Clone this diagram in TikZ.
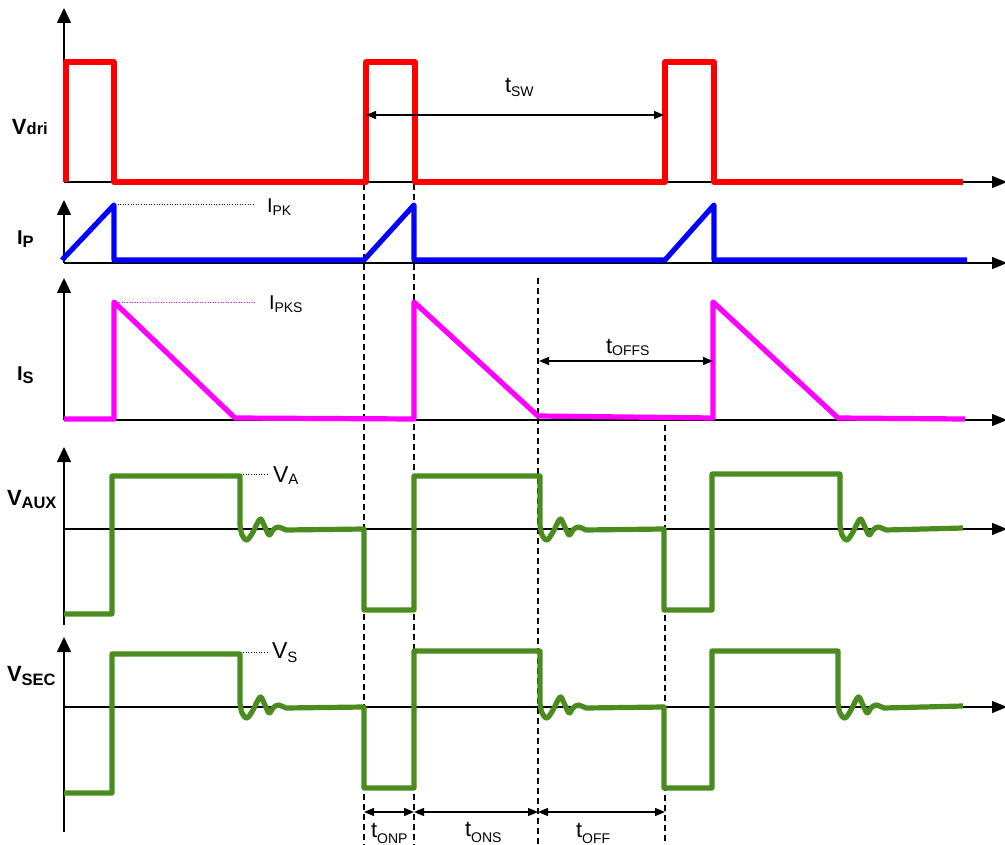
\documentclass[tikz,border=0pt]{standalone}
\usepackage{fontspec}
\setmainfont{Liberation Sans}
\usetikzlibrary{arrows.meta}
\definecolor{wgreen}{RGB}{75,140,30}
\definecolor{wred}{RGB}{255,0,0}
\definecolor{wblue}{RGB}{0,0,255}
\definecolor{wmag}{RGB}{255,0,255}
\newcommand\ringpath[2]{-- plot[smooth,tension=0.55] coordinates {(#1,#2-4) (#1+2,#2+6) (#1+7,#2+11) (#1+13,#2+3) (#1+20,#2-10) (#1+24,#2-4) (#1+29,#2+6) (#1+33,#2+1) (#1+38,#2-2) (#1+46,#2+1)}}
\newcommand\mainfs{\fontsize{22}{24}\selectfont\bfseries}
\newcommand\mainI{\fontsize{20}{22}\selectfont\bfseries}
\newcommand\mainsub{\fontsize{16.5}{18}\selectfont\bfseries}
\newcommand\tfs{\fontsize{22}{24}\selectfont}
\newcommand\tsub{\fontsize{14}{16}\selectfont}
\newcommand\vfs{\fontsize{23}{25}\selectfont}
\newcommand\vsub{\fontsize{15}{17}\selectfont}
\newcommand\ifs{\fontsize{20}{22}\selectfont}
\begin{document}
\begin{tikzpicture}[x=1pt,y=-1pt,
  axis/.style={line width=1.4pt,-{Triangle[length=15pt,width=14pt]}},
  haxis/.style={line width=1.4pt,-{Triangle[length=15pt,width=12pt]}},
  dsh/.style={line width=1.6pt,dash pattern=on 6pt off 4pt},
  dim/.style={line width=1.3pt,{Triangle[length=10pt,width=8pt]}-{Triangle[length=10pt,width=8pt]}},
  wave/.style={line width=5.2pt,line join=round},
  lab/.style={anchor=base west,inner sep=0pt,outer sep=0pt},
  dotl/.style={line width=0.9pt,dash pattern=on 1pt off 1.6pt}]
\useasboundingbox (0,0) rectangle (1005,845);
% axes
\coordinate (o1) at (64,182); \coordinate (o2) at (64,263); \coordinate (o3) at (64,420);
\coordinate (o4) at (64,529); \coordinate (o5) at (64,707);
\draw[axis] (o1) -- (64,8);
\draw[haxis] (o1) -- (1007,182);
\draw[axis] (o2) -- (64,200);
\draw[haxis] (o2) -- (1007,263);
\draw[axis] (o3) -- (64,278);
\draw[haxis] (o3) -- (1007,420);
\draw[axis] (64,625) -- (64,447);
\draw[haxis] (o4) -- (1007,529);
\draw[axis] (64,832) -- (64,637);
\draw[haxis] (o5) -- (1007,707);
% dashed markers
\draw[dsh] (364,184) -- (364,845);
\draw[dsh] (414,184) -- (414,845);
\draw[dsh] (538,278) -- (538,845);
\draw[dsh] (665,425) -- (665,845);
% dotted reference lines
\draw[dotl,wblue] (115,204) -- (255,204);
\draw[dotl,wmag] (114,302) -- (255,302);
\draw[dotl] (238,474) -- (268,474);
\draw[dotl] (238,652) -- (268,652);
% Vdri
\draw[wave,wred] (66,182) -- (66,62) -- (114,62) -- (114,182) -- (366,182) -- (366,62) -- (415,62) -- (415,182) -- (665,182) -- (665,62) -- (714,62) -- (714,182) -- (963,182);
% IP
\draw[wave,wblue] (62,260) -- (114,205) -- (114,260) -- (364,260) -- (414,205) -- (414,260) -- (665,260) -- (714,205) -- (714,260) -- (967,260);
% IS
\draw[wave,wmag] (64,419) -- (114,419) -- (114,302) -- (235,418) -- (414,419) -- (414,302) -- (538,416) -- (713,418) -- (713,302) -- (838,418) -- (965,419);
% VAUX
\draw[wave,wgreen] (64,614) -- (112,614) -- (112,476) -- (240,476) \ringpath{240}{529} -- (364,529) -- (364,610) -- (414,610) -- (414,476) -- (540,476) \ringpath{540}{529} -- (664,529) -- (664,610) -- (712,610) -- (712,474) -- (840,474) \ringpath{840}{529} -- (963,528);
% VSEC
\draw[wave,wgreen] (64,793) -- (112,793) -- (112,654) -- (240,654) \ringpath{240}{707} -- (364,707) -- (364,788) -- (414,788) -- (414,651) -- (540,651) \ringpath{540}{707} -- (664,707) -- (664,788) -- (712,788) -- (712,651) -- (838,651) \ringpath{838}{707} -- (963,706);
% dimension arrows
\coordinate (sw1) at (366,115); \coordinate (sw2) at (664,115);
\draw[dim] (sw1) -- (sw2);
\coordinate (of1) at (539,361); \coordinate (of2) at (713,361);
\draw[dim] (of1) -- (of2);
\coordinate (b1) at (364,812); \coordinate (b2) at (414,812); \coordinate (b3) at (538,812); \coordinate (b4) at (665,812);
\draw[dim] (b1) -- (b2);
\draw[dim] (b2) -- (b3);
\draw[dim] (b3) -- (b4);
% signal names
\node[lab] (lvdri) at (12,135) {\mainfs V\mainsub dri};
\node[lab] (lip) at (17,245) {\mainI I\raisebox{-3pt}{\mainsub P}};
\node[lab] (lis) at (17,381) {\mainI I\raisebox{-3pt}{\mainsub S}};
\node[lab] (lvaux) at (7,505) {\mainfs V\raisebox{-3pt}{\mainsub AUX}};
\node[lab] (lvsec) at (7,681) {\mainfs V\raisebox{-4pt}{\mainsub SEC}};
% annotations
\node[lab] (ltsw) at (505,93) {\tfs t\raisebox{-4pt}{\tsub SW}};
\node[lab] (lipk) at (267,213) {\ifs I\raisebox{-3pt}{\tsub PK}};
\node[lab] (lipks) at (269,310) {\ifs I\raisebox{-3pt}{\tsub PKS}};
\node[lab] (ltoffs) at (606,353) {\tfs t\raisebox{-2pt}{\tsub OFFS}};
\node[lab] (lva) at (273,482) {\vfs V\raisebox{-2pt}{\vsub A}};
\node[lab] (lvs) at (272,658) {\vfs V\raisebox{-4pt}{\vsub S}};
\node[lab] (ltonp) at (371,837) {\tfs t\raisebox{-6pt}{\tsub ONP}};
\node[lab] (ltons) at (465,836) {\tfs t\raisebox{-6pt}{\tsub ONS}};
\node[lab] (ltoff) at (576,837) {\tfs t\raisebox{-6pt}{\tsub OFF}};
\end{tikzpicture}
\end{document}
